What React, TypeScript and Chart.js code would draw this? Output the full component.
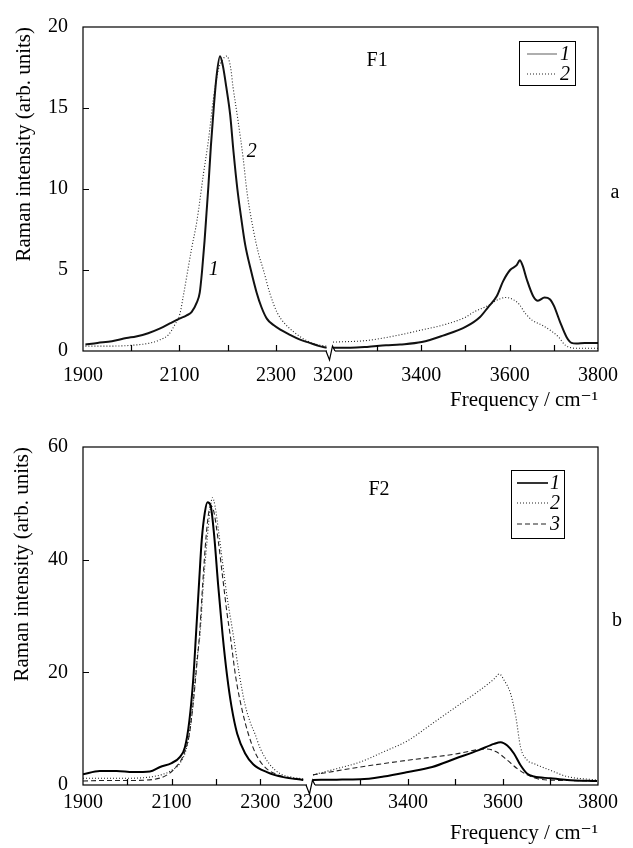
import React, { useEffect, useRef } from 'react';
import { Chart, LinearScale, registerables } from 'chart.js';

// ---------- Axis ticks ----------
const X_TICK_VALUES = [1900, 2000, 2100, 2200, 2300, 3200, 3300, 3400, 3500, 3600, 3700, 3800];
const X_TICK_LABELS = [1900, 2100, 2300, 3200, 3400, 3600, 3800];
const X_TICK_MARKS = [2000, 2100, 2200, 2300, 3300, 3400, 3500, 3600, 3700];
const F1_Y_MARKS = [5, 10, 15];
const F2_Y_MARKS = [20, 40];

// ---------- Panel a (F1) ----------
const F1_FREQ_A1 = [1905, 1930, 1960, 1990, 2010, 2035, 2060, 2080, 2100, 2115, 2125, 2136, 2142, 2147, 2152, 2156, 2160, 2165, 2171, 2177, 2184, 2190, 2197, 2205, 2212, 2220, 2228, 2236, 2248, 2260, 2270, 2281, 2295, 2310, 2329, 2350, 2370, 2390, 2405];
const F1_INT_A1 = [0.4, 0.5, 0.6, 0.8, 0.9, 1.1, 1.4, 1.7, 2.0, 2.2, 2.4, 3.0, 3.6, 5.0, 6.8, 8.5, 10.2, 12.6, 15.0, 17.0, 18.2, 17.6, 16.3, 14.6, 12.3, 10.0, 8.2, 6.6, 5.0, 3.6, 2.7, 2.0, 1.6, 1.3, 1.0, 0.7, 0.5, 0.3, 0.2];
const F1_FREQ_B1 = [3200, 3240, 3277, 3320, 3352, 3401, 3449, 3501, 3533, 3551, 3571, 3585, 3601, 3616, 3623, 3629, 3639, 3653, 3664, 3679, 3691, 3700, 3714, 3729, 3740, 3751, 3770, 3800];
const F1_INT_B1 = [0.2, 0.2, 0.25, 0.35, 0.4, 0.55, 0.95, 1.5, 2.1, 2.7, 3.4, 4.3, 5.0, 5.3, 5.6, 5.3, 4.4, 3.4, 3.1, 3.3, 3.2, 2.8, 1.8, 0.85, 0.5, 0.46, 0.5, 0.5];
const F1_FREQ_A2 = [1905, 1950, 2000, 2040, 2060, 2077, 2090, 2101, 2108, 2115, 2125, 2136, 2150, 2160, 2170, 2180, 2190, 2198, 2206, 2211, 2221, 2232, 2240, 2253, 2264, 2274, 2288, 2302, 2318, 2336, 2360, 2385, 2405];
const F1_INT_A2 = [0.3, 0.3, 0.35, 0.5, 0.7, 1.0, 1.6, 2.3, 3.4, 4.6, 6.3, 8.0, 11.0, 13.0, 15.5, 17.3, 18.0, 18.2, 17.5, 16.3, 14.3, 11.9, 9.8, 7.5, 6.0, 5.0, 3.5, 2.4, 1.7, 1.2, 0.7, 0.4, 0.3];
const F1_FREQ_B2 = [3200, 3277, 3352, 3401, 3449, 3501, 3518, 3551, 3576, 3592, 3606, 3621, 3636, 3651, 3673, 3696, 3711, 3726, 3751, 3800];
const F1_INT_B2 = [0.55, 0.65, 1.0, 1.3, 1.6, 2.1, 2.4, 2.8, 3.2, 3.3, 3.2, 2.9, 2.3, 1.9, 1.6, 1.2, 0.85, 0.36, 0.17, 0.17];

// ---------- Panel b (F2) ----------
const F2_FREQ_A1 = [1900, 1938, 1976, 2013, 2051, 2074, 2100, 2119, 2130, 2140, 2149, 2155, 2162, 2168, 2175, 2181, 2188, 2196, 2205, 2215, 2225, 2235, 2248, 2266, 2284, 2315, 2352, 2397];
const F2_INT_A1 = [1.9, 2.5, 2.5, 2.3, 2.4, 3.2, 3.9, 5.0, 6.7, 11.4, 19.0, 26.7, 36.0, 43.5, 48.4, 50.2, 49.6, 44.3, 35.5, 26.7, 19.5, 14.0, 9.1, 5.6, 3.7, 2.3, 1.4, 0.9];
const F2_FREQ_B1 = [3200, 3250, 3300, 3349, 3400, 3451, 3500, 3549, 3581, 3595, 3609, 3623, 3637, 3651, 3665, 3700, 3735, 3798];
const F2_INT_B1 = [0.9, 0.95, 1.0, 1.5, 2.3, 3.2, 4.7, 6.2, 7.3, 7.6, 7.0, 5.6, 3.5, 2.0, 1.5, 1.2, 0.9, 0.7];
const F2_FREQ_A2 = [1900, 1950, 2000, 2050, 2080, 2100, 2120, 2135, 2145, 2153, 2159, 2164, 2172, 2181, 2187, 2192, 2198, 2206, 2215, 2225, 2239, 2252, 2265, 2278, 2288, 2300, 2320, 2345, 2370, 2397];
const F2_INT_A2 = [1.2, 1.2, 1.2, 1.4, 1.9, 2.6, 4.0, 7.0, 12.0, 18.5, 23.5, 26.7, 36.0, 44.3, 49.0, 51.0, 49.5, 45.0, 39.5, 33.5, 26.7, 20.0, 14.5, 11.0, 9.1, 6.5, 3.8, 2.0, 1.4, 1.1];
const F2_FREQ_B2 = [3200, 3250, 3300, 3349, 3400, 3451, 3500, 3549, 3581, 3592, 3603, 3616, 3627, 3637, 3651, 3665, 3700, 3735, 3798];
const F2_INT_B2 = [1.8, 2.9, 4.1, 5.9, 7.9, 10.9, 13.8, 16.7, 18.8, 19.7, 18.5, 16.2, 12.1, 6.7, 4.4, 3.8, 2.6, 1.5, 0.9];
const F2_FREQ_A3 = [1900, 1950, 2000, 2060, 2090, 2110, 2125, 2140, 2150, 2157, 2163, 2170, 2178, 2184, 2188, 2195, 2205, 2215, 2225, 2232, 2245, 2260, 2273, 2290, 2310, 2340, 2370, 2397];
const F2_INT_A3 = [0.7, 0.8, 0.8, 1.0, 1.8, 3.2, 5.0, 9.0, 15.5, 21.5, 26.7, 35.5, 44.3, 48.5, 49.6, 48.6, 43.5, 37.0, 30.5, 26.7, 19.0, 13.0, 9.1, 5.5, 3.2, 1.8, 1.2, 0.9];
const F2_FREQ_B3 = [3200, 3300, 3400, 3500, 3549, 3565, 3586, 3609, 3630, 3651, 3679, 3735, 3798];
const F2_INT_B3 = [1.8, 3.2, 4.4, 5.5, 6.3, 6.4, 5.9, 4.4, 2.9, 1.8, 1.0, 0.8, 0.7];

const SERIF = "'Liberation Serif', 'Times New Roman', 'DejaVu Serif', serif";

// ---------- Broken (piecewise linear) x scale ----------
class BrokenScale extends LinearScale {
  static id = 'broken';
  static defaults = LinearScale.defaults;
  fracOf(value: number): number {
    const o: any = this.options;
    const min = o.min, max = o.max;
    if (value <= o.aEnd) return ((value - min) / (o.aEnd - min)) * o.aFrac;
    if (value >= o.bStart) return o.bFrac + ((value - o.bStart) / (max - o.bStart)) * (1 - o.bFrac);
    return o.aFrac + ((value - o.aEnd) / (o.bStart - o.aEnd)) * (o.bFrac - o.aFrac);
  }
  getPixelForValue(value: any) {
    if (value === null || value === undefined || isNaN(value)) return NaN;
    return (this as any).left + this.fracOf(value) * (this as any).width;
  }
  getValueForPixel(pixel: number) {
    const o: any = this.options;
    const f = (pixel - (this as any).left) / (this as any).width;
    if (f <= o.aFrac) return o.min + (f / o.aFrac) * (o.aEnd - o.min);
    if (f >= o.bFrac) return o.bStart + ((f - o.bFrac) / (1 - o.bFrac)) * (o.max - o.bStart);
    return o.aEnd + ((f - o.aFrac) / (o.bFrac - o.aFrac)) * (o.bStart - o.aEnd);
  }
}

Chart.register(...registerables, BrokenScale as any);

function toPoints(fa: number[], ia: number[], fb: number[], ib: number[]) {
  const pts: { x: number; y: number | null }[] = [];
  fa.forEach((f, i) => pts.push({ x: f, y: ia[i] }));
  pts.push({ x: 2800, y: null });
  fb.forEach((f, i) => pts.push({ x: f, y: ib[i] }));
  return pts;
}

type Series = { fa: number[]; ia: number[]; fb: number[]; ib: number[]; color: string; width: number; dash: number[]; legendColor: string; legendWidth: number; label: string };

type Panel = {
  height: number; top: number; xh: number; ymax: number; step: number; yMarks: number[];
  aEnd: number; bStart: number; aFrac: number; bFrac: number;
  xPad: number; xTitlePad: number; yTitlePad: number;
  series: Series[];
  legend: { dx: number; dy: number; w: number; h: number; rows: number[]; s0: number; s1: number; nx: number };
  texts: { text: string; x: number; y: number; italic: boolean }[];
  side: { text: string; dx: number; dy: number };
};

const TOP: Panel = {
  height: 420, top: 15, xh: 69, ymax: 20, step: 5, yMarks: F1_Y_MARKS,
  aEnd: 2410, bStart: 3200, aFrac: 0.4777, bFrac: 0.4854,
  xPad: 13, xTitlePad: 7, yTitlePad: 12,
  series: [
    { fa: F1_FREQ_A1, ia: F1_INT_A1, fb: F1_FREQ_B1, ib: F1_INT_B1, color: '#111', width: 2, dash: [], legendColor: '#777', legendWidth: 1.2, label: '1' },
    { fa: F1_FREQ_A2, ia: F1_INT_A2, fb: F1_FREQ_B2, ib: F1_INT_B2, color: '#222', width: 1.1, dash: [1, 2], legendColor: '#222', legendWidth: 1.1, label: '2' },
  ],
  legend: { dx: -79, dy: 14, w: 56, h: 44, rows: [13, 33], s0: 8, s1: 38, nx: 46 },
  texts: [
    { text: '1', x: 2171, y: 5.0, italic: true },
    { text: '2', x: 2250, y: 12.3, italic: true },
    { text: 'F1', x: 3300, y: 17.9, italic: false },
  ],
  side: { text: 'a', dx: 17, dy: 166 },
};

const BOTTOM: Panel = {
  height: 428, top: 24, xh: 63, ymax: 60, step: 20, yMarks: F2_Y_MARKS,
  aEnd: 2410, bStart: 3200, aFrac: 0.4388, bFrac: 0.4466,
  xPad: 6, xTitlePad: 2, yTitlePad: 10,
  series: [
    { fa: F2_FREQ_A1, ia: F2_INT_A1, fb: F2_FREQ_B1, ib: F2_INT_B1, color: '#000', width: 2, dash: [], legendColor: '#000', legendWidth: 1.6, label: '1' },
    { fa: F2_FREQ_A2, ia: F2_INT_A2, fb: F2_FREQ_B2, ib: F2_INT_B2, color: '#222', width: 1.1, dash: [1, 2], legendColor: '#222', legendWidth: 1.1, label: '2' },
    { fa: F2_FREQ_A3, ia: F2_INT_A3, fb: F2_FREQ_B3, ib: F2_INT_B3, color: '#222', width: 1.1, dash: [5, 3], legendColor: '#222', legendWidth: 1.1, label: '3' },
  ],
  legend: { dx: -87, dy: 23, w: 53, h: 68, rows: [13, 33, 54], s0: 6, s1: 37, nx: 44 },
  texts: [{ text: 'F2', x: 3339, y: 52.4, italic: false }],
  side: { text: 'b', dx: 19, dy: 174 },
};

function decorPlugin(p: Panel) {
  return {
    id: 'decor',
    afterDraw(chart: any) {
      const ctx: CanvasRenderingContext2D = chart.ctx;
      const a = chart.chartArea;
      const xs = chart.scales.x;
      const ys = chart.scales.y;
      ctx.save();
      ctx.strokeStyle = '#000';
      ctx.lineWidth = 1.2;
      ctx.setLineDash([]);
      ctx.strokeRect(a.left, a.top, a.right - a.left, a.bottom - a.top);
      ctx.beginPath();
      for (const v of X_TICK_MARKS) {
        const px = Math.round(xs.getPixelForValue(v)) + 0.5;
        ctx.moveTo(px, a.bottom);
        ctx.lineTo(px, a.bottom - 6);
      }
      for (const v of p.yMarks) {
        const py = Math.round(ys.getPixelForValue(v)) + 0.5;
        ctx.moveTo(a.left, py);
        ctx.lineTo(a.left + 6, py);
      }
      ctx.stroke();
      // axis break
      const bx = (xs.getPixelForValue(p.aEnd) + xs.getPixelForValue(p.bStart)) / 2;
      const b = a.bottom;
      ctx.fillStyle = '#fff';
      ctx.fillRect(bx - 4, b - 1.5, 8, 3);
      ctx.beginPath();
      ctx.moveTo(bx - 5, b);
      ctx.lineTo(bx - 1.5, b + 9);
      ctx.lineTo(bx + 1.5, b - 5);
      ctx.lineTo(bx + 4, b);
      ctx.stroke();
      // legend
      const L = p.legend;
      const lx = a.right + L.dx;
      const ly = a.top + L.dy;
      ctx.fillStyle = '#fff';
      ctx.fillRect(lx, ly, L.w, L.h);
      ctx.lineWidth = 1;
      ctx.strokeStyle = '#000';
      ctx.strokeRect(lx + 0.5, ly + 0.5, L.w, L.h);
      p.series.forEach((s, i) => {
        const ry = ly + L.rows[i];
        ctx.beginPath();
        ctx.strokeStyle = s.legendColor;
        ctx.lineWidth = s.legendWidth;
        ctx.setLineDash(s.dash);
        ctx.moveTo(lx + L.s0, ry);
        ctx.lineTo(lx + L.s1, ry);
        ctx.stroke();
        ctx.setLineDash([]);
        ctx.fillStyle = '#000';
        ctx.font = `italic 20px ${SERIF}`;
        ctx.textAlign = 'center';
        ctx.textBaseline = 'middle';
        ctx.fillText(s.label, lx + L.nx, ry + 1);
      });
      // annotations
      ctx.fillStyle = '#000';
      ctx.textAlign = 'center';
      ctx.textBaseline = 'middle';
      for (const t of p.texts) {
        ctx.font = `${t.italic ? 'italic ' : ''}20px ${SERIF}`;
        ctx.fillText(t.text, xs.getPixelForValue(t.x), ys.getPixelForValue(t.y));
      }
      ctx.font = `20px ${SERIF}`;
      ctx.fillText(p.side.text, a.right + p.side.dx, a.top + p.side.dy);
      ctx.restore();
    },
  };
}

function makeConfig(p: Panel): any {
  const tickFont = { family: SERIF, size: 20 };
  const titleFont = { family: SERIF, size: 21 };
  return {
    type: 'line',
    data: {
      datasets: p.series.map((s) => ({
        label: s.label,
        data: toPoints(s.fa, s.ia, s.fb, s.ib),
        borderColor: s.color,
        borderWidth: s.width,
        borderDash: s.dash,
        pointRadius: 0,
        fill: false,
        spanGaps: false,
        cubicInterpolationMode: 'monotone',
      })),
    },
    options: {
      responsive: false,
      animation: false,
      devicePixelRatio: 1,
      events: [],
      layout: { padding: { top: p.top, right: 35, left: 0, bottom: 0 } },
      plugins: { legend: { display: false }, tooltip: { enabled: false } },
      scales: {
        x: {
          type: 'broken',
          min: 1900,
          max: 3800,
          aEnd: p.aEnd,
          bStart: p.bStart,
          aFrac: p.aFrac,
          bFrac: p.bFrac,
          afterBuildTicks: (scale: any) => {
            scale.ticks = X_TICK_VALUES.map((v) => ({ value: v }));
          },
          afterFit: (scale: any) => {
            scale.height = p.xh;
          },
          grid: { display: false, drawTicks: false },
          border: { display: false },
          ticks: {
            autoSkip: false,
            maxRotation: 0,
            minRotation: 0,
            padding: p.xPad,
            color: '#000',
            font: tickFont,
            callback: (v: number) => (X_TICK_LABELS.includes(v) ? String(v) : ''),
          },
          title: {
            display: true,
            text: 'Frequency / cm⁻¹',
            align: 'end',
            color: '#000',
            font: titleFont,
            padding: { top: 0, bottom: p.xTitlePad },
          },
        },
        y: {
          min: 0,
          max: p.ymax,
          afterFit: (scale: any) => {
            scale.width = 83;
          },
          grid: { display: false, drawTicks: false },
          border: { display: false },
          ticks: { stepSize: p.step, padding: 15, color: '#000', font: tickFont },
          title: {
            display: true,
            text: 'Raman intensity (arb. units)',
            align: 'end',
            color: '#000',
            font: titleFont,
            padding: { top: p.yTitlePad, bottom: 0 },
          },
        },
      },
    },
    plugins: [decorPlugin(p)],
  };
}

export default function App() {
  const ref1 = useRef<HTMLCanvasElement>(null);
  const ref2 = useRef<HTMLCanvasElement>(null);
  useEffect(() => {
    const c1 = new Chart(ref1.current as HTMLCanvasElement, makeConfig(TOP));
    const c2 = new Chart(ref2.current as HTMLCanvasElement, makeConfig(BOTTOM));
    return () => {
      c1.destroy();
      c2.destroy();
    };
  }, []);
  return (
    <div style={{ position: 'absolute', left: 0, top: 0, width: 633, height: 848, background: '#fff' }}>
      <canvas ref={ref1} width={633} height={420} style={{ position: 'absolute', left: 0, top: 0 }} />
      <canvas ref={ref2} width={633} height={428} style={{ position: 'absolute', left: 0, top: 420 }} />
    </div>
  );
}
